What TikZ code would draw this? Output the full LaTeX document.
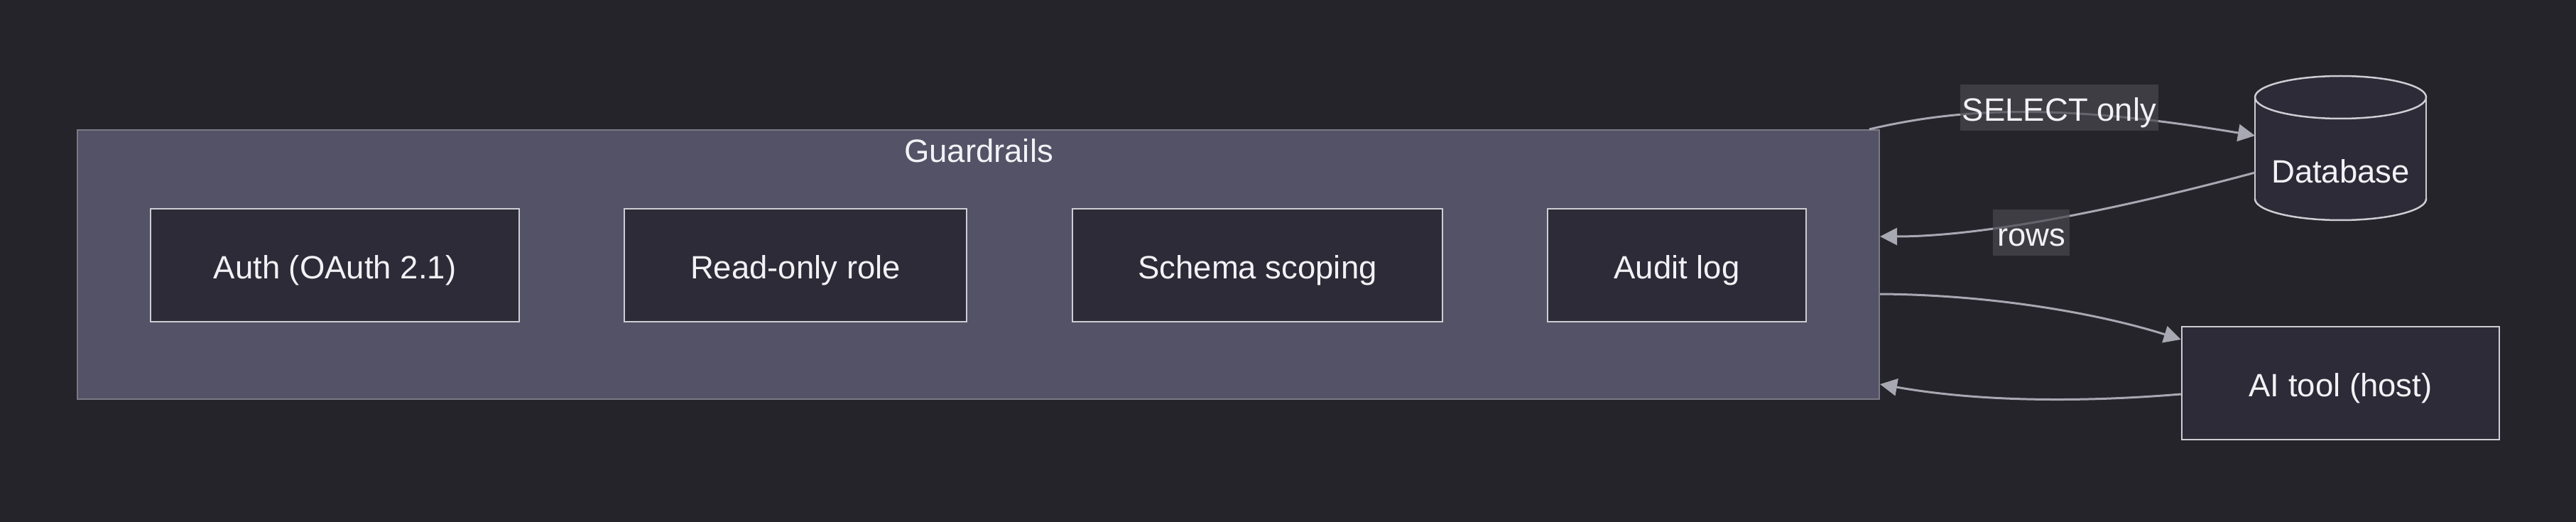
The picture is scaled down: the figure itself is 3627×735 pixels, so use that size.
\documentclass[tikz,border=0pt]{standalone}
\usepackage{fontspec}
\setmainfont{Liberation Sans}
\usetikzlibrary{arrows.meta}
\definecolor{bgc}{RGB}{37,36,42}
\definecolor{guardfill}{RGB}{83,82,102}
\definecolor{guardline}{RGB}{122,121,132}
\definecolor{boxfill}{RGB}{44,43,55}
\definecolor{boxline}{RGB}{205,205,212}
\definecolor{arrowc}{RGB}{168,168,178}
\definecolor{lblbg}{RGB}{73,72,80}
\definecolor{txt}{RGB}{242,242,246}
\tikzset{
  basefont/.style={font=\fontsize{45.5}{54}\selectfont, text=txt, text height=41.9pt, text depth=4.5pt},
  guardbox/.style={draw=guardline, line width=2pt, fill=guardfill, inner sep=0pt},
  itembox/.style={basefont, draw=boxline, line width=2.5pt, fill=boxfill, inner sep=0pt, minimum height=159pt},
  flow/.style={draw=arrowc, line width=3pt, -{Triangle[length=24pt,width=24pt]}},
  lbl/.style={basefont, fill=lblbg, fill opacity=0.7, text opacity=1, inner xsep=3pt, inner ysep=0pt, minimum height=65pt},
  dbstyle/.style={draw=boxline, line width=2.5pt, fill=boxfill}
}
\begin{document}
\begin{tikzpicture}[x=1pt,y=-1pt]
\fill[bgc] (0,0) rectangle (3627,735);
\useasboundingbox (0,0) rectangle (3627,735);

% Guardrails container
\node[guardbox, minimum width=2537pt, minimum height=379pt] (g) at (1377.5,372.5) {};
\node[basefont] (gt) at (1378,210) {Guardrails};

% inner boxes
\node[itembox, minimum width=519pt] (auth) at (471.5,373.5) {Auth (OAuth 2.1)};
\node[itembox, minimum width=482pt] (ro) at (1120,373.5) {Read-only role};
\node[itembox, minimum width=521pt] (sc) at (1770.5,373.5) {Schema scoping};
\node[itembox, minimum width=364pt] (al) at (2361,373.5) {Audit log};

% Database cylinder
\fill[dbstyle] (3295.5,280) ellipse [x radius=120.5, y radius=30];
\fill[boxfill] (3175,137) rectangle (3416,280);
\draw[boxline, line width=2.5pt] (3175,137) -- (3175,280) (3416,137) -- (3416,280);
\filldraw[dbstyle] (3295.5,137) ellipse [x radius=120.5, y radius=30];
\node[basefont] (db) at (3295.5,238.5) {Database};
\coordinate (dbin) at (3175,191);
\coordinate (dbout) at (3175,243);

% AI tool
\node[itembox, minimum width=447pt] (ai) at (3295.5,539.5) {AI tool (host)};

% connectors
\draw[flow] ([xshift=-15pt]g.north east) .. controls (2760,152) and (2900,145) .. (dbin);
\draw[flow] (dbout) .. controls (3000,290) and (2800,333) .. ([yshift=39.5pt]g.east);
\draw[flow] ([yshift=-41.5pt]g.east) .. controls (2800,415) and (2950,440) .. ([yshift=61.5pt]ai.west);
\draw[flow] ([yshift=-15.5pt]ai.west) .. controls (2950,565) and (2800,568) .. ([yshift=-168.5pt]g.east);

% edge labels
\node[lbl, minimum width=271pt] (l1) at (2899.5,151.5) {SELECT only};
\node[lbl, minimum width=108pt] (l2) at (2860,327.5) {rows};
\end{tikzpicture}
\end{document}
